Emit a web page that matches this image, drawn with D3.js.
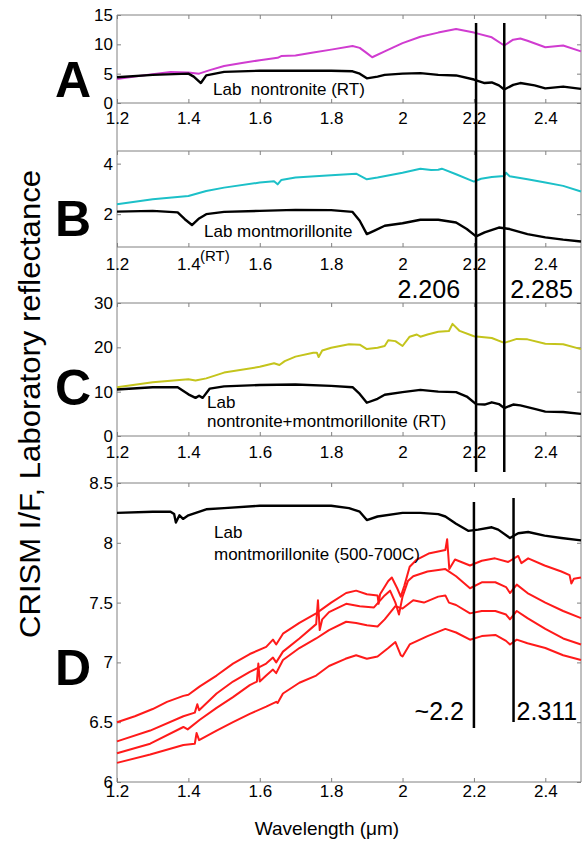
<!DOCTYPE html>
<html>
<head>
<meta charset="utf-8">
<script src="https://cdn.jsdelivr.net/npm/d3@7"></script>
<style>
  body { margin: 0; background: white; }
  text { font-family: "Liberation Sans", Arial, sans-serif; }
</style>
</head>
<body>
<div id="chart"></div>
<script>
// wavelength (um) / value pairs

// Panel A: CRISM spectrum and lab nontronite (RT)
const aCrism = [[1.2,4.1],[1.25,4.5],[1.3,4.9],[1.35,5.3],[1.4,5.2],[1.43,5.0],[1.46,5.6],[1.5,6.3],[1.55,6.8],[1.6,7.3],[1.65,7.7],[1.66,8.0],[1.7,8.1],[1.75,8.6],[1.8,9.1],[1.86,9.7],[1.88,9.4],[1.9,8.5],[1.915,7.8],[1.95,8.8],[2.0,10.2],[2.05,11.3],[2.1,12.0],[2.15,12.6],[2.2,12.0],[2.25,11.2],[2.285,9.8],[2.31,10.8],[2.33,11.0],[2.35,10.6],[2.4,9.5],[2.45,9.8],[2.5,8.8]]
const aLab = [[1.2,4.4],[1.3,4.8],[1.4,5.0],[1.415,4.5],[1.435,3.4],[1.45,4.7],[1.5,5.3],[1.6,5.5],[1.7,5.5],[1.8,5.5],[1.86,5.4],[1.88,5.0],[1.9,4.2],[1.93,4.5],[1.95,4.8],[2.0,5.0],[2.05,5.1],[2.1,4.8],[2.15,4.7],[2.2,4.0],[2.23,3.4],[2.25,3.5],[2.27,3.0],[2.285,2.3],[2.31,3.1],[2.33,3.4],[2.37,3.0],[2.4,2.5],[2.45,2.8],[2.5,2.4]]

// Panel B: CRISM spectrum and lab montmorillonite (RT)
const bCrism = [[1.2,2.39],[1.3,2.59],[1.4,2.72],[1.45,2.92],[1.5,3.05],[1.6,3.25],[1.64,3.30],[1.65,3.18],[1.66,3.35],[1.7,3.45],[1.8,3.54],[1.87,3.60],[1.9,3.38],[1.93,3.45],[2.0,3.64],[2.05,3.80],[2.08,3.75],[2.1,3.76],[2.11,3.80],[2.15,3.58],[2.2,3.29],[2.22,3.40],[2.25,3.47],[2.285,3.51],[2.29,3.64],[2.3,3.50],[2.35,3.38],[2.4,3.25],[2.45,3.12],[2.5,2.90]]
const bLab = [[1.2,2.10],[1.3,2.13],[1.37,2.07],[1.39,1.80],[1.41,1.57],[1.43,1.83],[1.45,2.00],[1.5,2.09],[1.6,2.13],[1.7,2.17],[1.8,2.16],[1.86,2.09],[1.88,1.74],[1.9,1.21],[1.92,1.34],[1.95,1.54],[2.0,1.64],[2.05,1.78],[2.1,1.78],[2.15,1.67],[2.18,1.41],[2.206,1.12],[2.23,1.28],[2.27,1.47],[2.3,1.41],[2.35,1.21],[2.4,1.08],[2.45,0.99],[2.5,0.92]]

// Panel C: CRISM spectrum and lab nontronite+montmorillonite (RT)
const cCrism = [[1.2,11.0],[1.3,12.1],[1.4,12.8],[1.42,12.5],[1.45,13.0],[1.5,14.3],[1.6,15.6],[1.64,16.4],[1.655,16.0],[1.67,16.9],[1.7,17.9],[1.75,18.8],[1.76,18.8],[1.765,17.8],[1.775,19.3],[1.8,19.9],[1.85,20.7],[1.88,20.6],[1.9,19.6],[1.93,19.9],[1.95,20.3],[1.96,21.6],[1.98,21.4],[2.0,20.3],[2.02,22.4],[2.04,22.9],[2.05,22.4],[2.07,22.9],[2.1,23.5],[2.13,23.7],[2.14,25.3],[2.16,23.7],[2.2,22.5],[2.25,22.1],[2.285,21.0],[2.32,21.9],[2.35,21.8],[2.4,20.8],[2.45,20.7],[2.5,19.6]]
const cLab = [[1.2,10.5],[1.3,11.0],[1.37,11.0],[1.4,9.4],[1.42,8.6],[1.43,9.1],[1.44,8.6],[1.46,10.7],[1.5,11.2],[1.6,11.5],[1.7,11.6],[1.8,11.3],[1.86,11.0],[1.88,9.5],[1.9,7.5],[1.93,8.4],[1.95,9.3],[2.0,9.9],[2.05,10.4],[2.1,10.0],[2.15,9.9],[2.18,8.9],[2.206,7.2],[2.23,7.1],[2.25,7.6],[2.27,7.2],[2.285,6.3],[2.31,7.1],[2.33,6.9],[2.37,6.1],[2.4,5.5],[2.45,5.4],[2.5,5.0]]

// Panel D: lab montmorillonite (500-700C) and four CRISM spectra
const dLab = [[1.2,8.25],[1.3,8.26],[1.35,8.26],[1.36,8.24],[1.365,8.17],[1.375,8.23],[1.385,8.20],[1.4,8.23],[1.45,8.28],[1.5,8.29],[1.6,8.31],[1.7,8.31],[1.8,8.31],[1.85,8.29],[1.88,8.26],[1.9,8.19],[1.93,8.22],[2.0,8.25],[2.05,8.25],[2.1,8.24],[2.12,8.22],[2.15,8.16],[2.184,8.10],[2.212,8.11],[2.25,8.13],[2.268,8.11],[2.301,8.04],[2.324,8.08],[2.352,8.09],[2.398,8.06],[2.445,8.04],[2.5,8.02]]
const dCrism1 = [[1.2,6.50],[1.25,6.55],[1.3,6.61],[1.34,6.67],[1.386,6.72],[1.4,6.73],[1.432,6.80],[1.479,6.89],[1.525,6.99],[1.572,7.07],[1.618,7.13],[1.637,7.19],[1.646,7.15],[1.665,7.24],[1.711,7.33],[1.758,7.41],[1.8,7.50],[1.842,7.58],[1.87,7.60],[1.9,7.57],[1.93,7.56],[1.933,7.49],[1.937,7.57],[1.96,7.68],[1.97,7.71],[1.985,7.62],[1.995,7.55],[2.005,7.64],[2.02,7.80],[2.04,7.86],[2.073,7.91],[2.12,7.94],[2.125,8.03],[2.131,7.78],[2.147,7.86],[2.189,7.81],[2.222,7.85],[2.259,7.87],[2.296,7.84],[2.324,7.89],[2.333,7.83],[2.352,7.87],[2.398,7.81],[2.445,7.76],[2.468,7.73],[2.473,7.66],[2.48,7.70],[2.5,7.71]]
const dCrism2 = [[1.2,6.34],[1.293,6.43],[1.386,6.55],[1.418,6.58],[1.425,6.65],[1.43,6.60],[1.479,6.74],[1.525,6.84],[1.572,6.92],[1.618,6.99],[1.637,7.04],[1.646,7.00],[1.665,7.09],[1.711,7.20],[1.758,7.32],[1.763,7.52],[1.768,7.27],[1.775,7.36],[1.794,7.42],[1.842,7.49],[1.88,7.47],[1.92,7.46],[1.95,7.56],[1.965,7.60],[1.98,7.50],[1.99,7.40],[2.0,7.55],[2.015,7.68],[2.03,7.72],[2.07,7.76],[2.12,7.78],[2.15,7.72],[2.189,7.62],[2.222,7.67],[2.26,7.67],[2.29,7.63],[2.301,7.58],[2.32,7.65],[2.35,7.58],[2.4,7.50],[2.45,7.43],[2.5,7.37]]
const dCrism3 = [[1.2,6.24],[1.293,6.32],[1.386,6.46],[1.398,6.44],[1.432,6.52],[1.479,6.62],[1.525,6.71],[1.572,6.81],[1.592,6.84],[1.596,6.99],[1.6,6.84],[1.618,6.89],[1.637,6.94],[1.646,6.91],[1.665,7.02],[1.711,7.12],[1.758,7.20],[1.794,7.27],[1.842,7.34],[1.87,7.33],[1.9,7.31],[1.93,7.30],[1.95,7.36],[1.98,7.47],[2.0,7.45],[2.03,7.52],[2.06,7.50],[2.1,7.55],[2.12,7.56],[2.13,7.50],[2.15,7.48],[2.189,7.41],[2.222,7.43],[2.26,7.43],[2.29,7.40],[2.301,7.36],[2.32,7.43],[2.35,7.37],[2.4,7.28],[2.45,7.20],[2.5,7.15]]
const dCrism4 = [[1.2,6.16],[1.293,6.23],[1.386,6.31],[1.418,6.32],[1.423,6.41],[1.43,6.35],[1.479,6.43],[1.525,6.50],[1.572,6.57],[1.618,6.63],[1.646,6.67],[1.65,6.66],[1.665,6.74],[1.711,6.83],[1.758,6.89],[1.794,6.97],[1.84,7.03],[1.87,7.06],[1.9,7.03],[1.93,7.05],[1.96,7.12],[1.98,7.17],[1.995,7.06],[2.0,7.05],[2.02,7.15],[2.07,7.22],[2.12,7.28],[2.15,7.25],[2.189,7.19],[2.222,7.22],[2.26,7.23],[2.29,7.18],[2.301,7.15],[2.32,7.19],[2.35,7.16],[2.4,7.12],[2.45,7.06],[2.5,7.02]]

// ticks and band markers
const xTicks = [1.2, 1.4, 1.6, 1.8, 2.0, 2.2, 2.4]
const aTicks = [0, 5, 10, 15]
const bTicks = [2, 4]
const cTicks = [0, 10, 20, 30]
const dTicks = [6, 6.5, 7, 7.5, 8, 8.5]
const upperBands = [2.206, 2.285]
const lowerBands = [2.2, 2.311]
const upperBandLabels = ["2.206", "2.285"]
const lowerBandLabels = ["~2.2", "2.311"]

const W = 583, H = 843
const left = 117, right = 581
const gray = "#808080"
const fmt = d => String(+d.toFixed(2))

const svg = d3.select("#chart").append("svg")
  .attr("width", W)
  .attr("height", H)
  .style("background-color", "white")

const x = d3.scaleLinear().domain([1.2, 2.5]).range([left, right])

// panel layout: top/bottom pixel rows, y domain, label padding
const panels = [
  { letter: "A", top: 15, bottom: 103, domain: [0, 15], ticks: aTicks, pad: 9, letterY: 97,
    series: [{ d: aCrism, c: "#d03cd0" }, { d: aLab, c: "black" }] },
  { letter: "B", top: 151, bottom: 247, domain: [0.7, 4.5], ticks: bTicks, pad: 11, letterY: 236,
    series: [{ d: bCrism, c: "#1cc0c8" }, { d: bLab, c: "black" }] },
  { letter: "C", top: 303, bottom: 436, domain: [0, 30], ticks: cTicks, pad: 10, letterY: 405,
    series: [{ d: cCrism, c: "#c4c41c" }, { d: cLab, c: "black" }] },
  { letter: "D", top: 483, bottom: 782, domain: [6, 8.5], ticks: dTicks, pad: 3, letterY: 685,
    series: [{ d: dCrism1, c: "#ff1a1a" }, { d: dCrism2, c: "#ff1a1a" }, { d: dCrism3, c: "#ff1a1a" },
             { d: dCrism4, c: "#ff1a1a" }, { d: dLab, c: "black" }] }
]

// continuous left and right frame lines
svg.append("line")
  .attr("x1", left).attr("x2", left).attr("y1", 15).attr("y2", 782)
  .style("stroke", gray)
svg.append("line")
  .attr("x1", right).attr("x2", right).attr("y1", 15).attr("y2", 782)
  .style("stroke", gray)

panels.forEach(p => {
  const y = d3.scaleLinear().domain(p.domain).range([p.bottom, p.top])
  const g = svg.append("g")

  // top and bottom frame lines
  g.append("line").attr("x1", left).attr("x2", right).attr("y1", p.top).attr("y2", p.top).style("stroke", gray)
  g.append("line").attr("x1", left).attr("x2", right).attr("y1", p.bottom).attr("y2", p.bottom).style("stroke", gray)

  // bottom axis with labels, ticks pointing inward
  const xb = g.append("g")
    .attr("transform", `translate(0,${p.bottom})`)
    .call(d3.axisBottom(x).tickValues(xTicks).tickFormat(fmt).tickSize(-4).tickPadding(p.pad))
  // top ticks
  const xt = g.append("g")
    .attr("transform", `translate(0,${p.top})`)
    .call(d3.axisTop(x).tickValues(xTicks).tickFormat("").tickSize(-4))
  // left axis with labels
  const yl = g.append("g")
    .attr("transform", `translate(${left},0)`)
    .call(d3.axisLeft(y).tickValues(p.ticks).tickFormat(fmt).tickSize(-4).tickPadding(4))
  // right ticks
  const yr = g.append("g")
    .attr("transform", `translate(${right},0)`)
    .call(d3.axisRight(y).tickValues(p.ticks).tickFormat("").tickSize(-4))

  ;[xb, xt, yl, yr].forEach(a => {
    a.select(".domain").remove()
    a.selectAll(".tick line").style("stroke", gray)
    a.selectAll("text")
      .style("font-size", "17px")
      .style("font-family", '"Liberation Sans", Arial, sans-serif')
      .attr("fill", "black")
  })

  // spectra
  const line = d3.line().x(d => x(d[0])).y(d => y(d[1]))
  p.series.forEach(s => {
    g.append("path")
      .datum(s.d)
      .attr("d", line)
      .style("fill", "none")
      .style("stroke", s.c)
      .style("stroke-width", s.c === "black" ? 2.4 : 2)
      .style("stroke-linejoin", "round")
  })

  // panel letter
  svg.append("text")
    .attr("x", 73)
    .attr("y", p.letterY)
    .text(p.letter)
    .style("font-size", "50px")
    .style("font-weight", "bold")
    .style("text-anchor", "middle")
})

// lab sample labels
const labText = (tx, ty, t, size) => svg.append("text")
  .attr("x", tx).attr("y", ty).text(t)
  .style("font-size", size || "17px")
  .style("white-space", "pre")
labText(213, 95, "Lab\u00a0\u00a0nontronite (RT)")
labText(204, 237, "Lab montmorillonite")
labText(200, 261, "(RT)", "15px")
labText(207, 408, "Lab")
labText(207, 427, "nontronite+montmorillonite (RT)")
labText(214, 538, "Lab")
labText(214, 560, "montmorillonite (500-700C)")

// band marker lines (panels A-C)
upperBands.forEach(b => {
  svg.append("line")
    .attr("x1", x(b)).attr("x2", x(b))
    .attr("y1", 23).attr("y2", 472)
    .style("stroke", "black")
    .style("stroke-width", 2.5)
})
svg.append("text").attr("x", x(upperBands[0]) - 16).attr("y", 298)
  .text(upperBandLabels[0]).style("font-size", "25px").style("text-anchor", "end")
svg.append("text").attr("x", x(upperBands[1]) + 6).attr("y", 298)
  .text(upperBandLabels[1]).style("font-size", "25px")

// band marker lines (panel D)
svg.append("line")
  .attr("x1", x(lowerBands[0])).attr("x2", x(lowerBands[0]))
  .attr("y1", 502).attr("y2", 728)
  .style("stroke", "black").style("stroke-width", 2.5)
svg.append("line")
  .attr("x1", x(lowerBands[1])).attr("x2", x(lowerBands[1]))
  .attr("y1", 498).attr("y2", 722)
  .style("stroke", "black").style("stroke-width", 2.5)
svg.append("text").attr("x", x(lowerBands[0]) - 10).attr("y", 720)
  .text(lowerBandLabels[0]).style("font-size", "25px").style("text-anchor", "end")
svg.append("text").attr("x", x(lowerBands[1]) + 3).attr("y", 720)
  .text(lowerBandLabels[1]).style("font-size", "25px")

// axis titles
svg.append("text")
  .attr("transform", "translate(40,404) rotate(-90)")
  .text("CRISM I/F, Laboratory reflectance")
  .style("font-size", "30px")
  .style("text-anchor", "middle")
  .attr("textLength", 468)
  .attr("lengthAdjust", "spacingAndGlyphs")

svg.append("text")
  .attr("x", 327)
  .attr("y", 835)
  .text("Wavelength (\u03bcm)")
  .style("font-size", "19px")
  .style("text-anchor", "middle")
</script>
</body>
</html>
